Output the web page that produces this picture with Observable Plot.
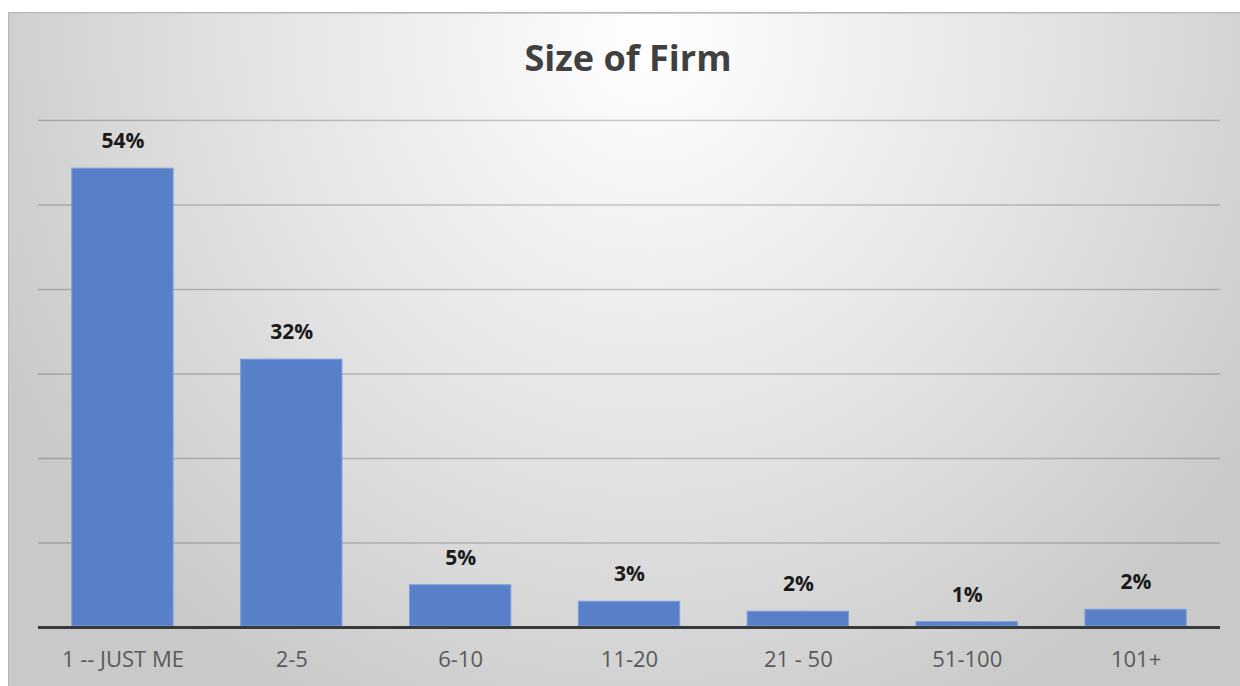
<!DOCTYPE html>
<html>
<head>
<meta charset="utf-8">
<script src="https://cdn.jsdelivr.net/npm/d3@7"></script>
<script src="https://cdn.jsdelivr.net/npm/@observablehq/plot@0.6"></script>
<style>
  html, body { margin: 0; padding: 0; background: #fff; }
  body { width: 1240px; height: 686px; overflow: hidden; position: relative; }
  #frame {
    position: absolute; left: 8px; top: 12px; width: 1232px; height: 674px;
    background: radial-gradient(ellipse 720px 760px at 52% 4%, #ffffff 0%, #f2f2f2 25%, #e6e6e6 50%, #d8d8d8 75%, #c9c9c9 100%);
    box-shadow: inset 1px 1px 0 #b5b5b5, inset 2px 2px 0 #cfcfcf;
  }
  #title {
    box-sizing: border-box; height: 88px; padding-top: 28px; padding-left: 8px;
    font: bold 36px/36px "Open Sans", sans-serif; color: #404040; text-align: center;
  }
  #chart svg { display: block; }
</style>
</head>
<body>
<div id="frame">
  <div id="title">Size of Firm</div>
  <div id="chart"></div>
</div>
<script>
const categories = ["1 -- JUST ME", "2-5", "6-10", "11-20", "21 - 50", "51-100", "101+"];
const shares = [54.3, 31.7, 5.0, 3.05, 1.87, 0.63, 2.1];
const labels = ["54%", "32%", "5%", "3%", "2%", "1%", "2%"];
const gridTicks = [10, 20, 30, 40, 50, 60];

const data = categories.map((c, i) => ({category: c, share: shares[i], label: labels[i]}));

const chart = Plot.plot({
  width: 1232,
  height: 586,
  marginLeft: 30,
  marginRight: 20,
  marginTop: 20,
  marginBottom: 59,
  style: {background: "transparent", fontFamily: "'Open Sans', sans-serif", overflow: "visible"},
  x: {domain: categories, paddingInner: 0.4, paddingOuter: 0.2, round: false, label: null},
  y: {domain: [0, 60], axis: null},
  marks: [
    Plot.ruleY(gridTicks, {stroke: "#000", strokeOpacity: 0.2, strokeWidth: 1.5}),
    Plot.barY(data, {x: "category", y: "share", fill: "#5880c8", stroke: "#7e9ddb", strokeWidth: 1, insetBottom: 1}),
    Plot.ruleY([0], {stroke: "#3a3a3a", strokeWidth: 3}),
    Plot.text(data, {x: "category", y: "share", text: "label", dy: -27, fontSize: 21, fontWeight: "bold", fill: "#1a1a1a"}),
    Plot.axisX({tickSize: 0, tickPadding: 24, fontSize: 22, color: "#595959", label: null})
  ]
});
document.getElementById("chart").appendChild(chart);
</script>
</body>
</html>
